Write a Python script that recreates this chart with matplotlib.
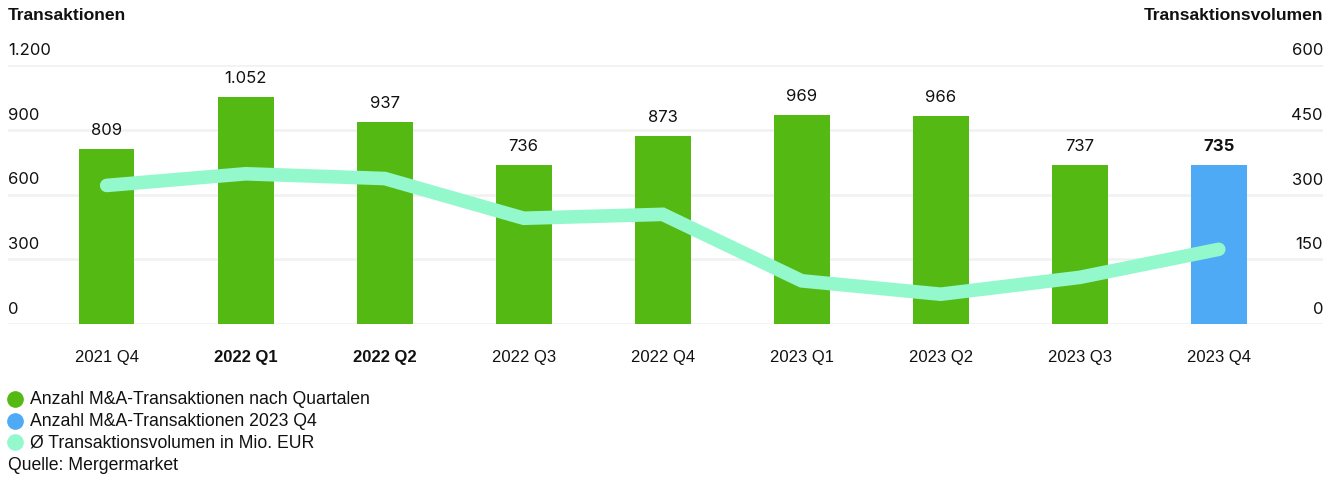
import matplotlib
matplotlib.use("Agg")
import matplotlib.pyplot as plt
from matplotlib.transforms import blended_transform_factory, offset_copy
from matplotlib.lines import Line2D

plt.rcParams['font.family'] = ['Liberation Sans', 'DejaVu Sans']
NUMFONT = ['Inter', 'Liberation Sans', 'DejaVu Sans']

categories = ["2021 Q4", "2022 Q1", "2022 Q2", "2022 Q3", "2022 Q4",
              "2023 Q1", "2023 Q2", "2023 Q3", "2023 Q4"]
deals = [809, 1052, 937, 736, 873, 969, 966, 737, 735]
volume = [321, 348, 337, 245, 254, 100, 69, 108, 173]
bold_cats = ["2022 Q1", "2022 Q2"]
left_ticks = [0, 300, 600, 900, 1200]
right_ticks = [0, 150, 300, 450, 600]

GREEN = "#55b914"
BLUE = "#4faaf5"
MINT = "#93f9cc"
GRID = "#f2f2f2"
TXT = "#111111"

fig = plt.figure(figsize=(13.39, 4.81), dpi=100)
ax = fig.add_axes([8/1339, 1-325/481, (1323-8)/1339, (325-66)/481])
ax2 = ax.twinx()

x = list(range(len(categories)))
colors = [GREEN]*(len(categories)-1) + [BLUE]
ax.bar(x, deals, width=0.4, color=colors, zorder=2)
ax.set_ylim(0, 1200)
ax.set_xlim(-0.71, len(categories)-1+0.75)

def de(n):
    return f"{n:,}".replace(",", ".")

for xi, v, c in zip(x, deals, categories):
    t = offset_copy(ax.transData, fig=fig, x=0, y=12, units='dots')
    ax.text(xi, v, de(v), transform=t, ha='center', va='bottom', fontsize=12,
            family=NUMFONT,
            fontweight='bold' if c == categories[-1] else 'normal', color=TXT)

for yv in left_ticks:
    ax.axhline(yv, color=GRID, lw=2, zorder=0)
    tr = offset_copy(blended_transform_factory(ax.transAxes, ax.transData),
                     fig=fig, x=0, y=8, units='dots')
    ax.text(0, yv, de(yv), transform=tr, ha='left', va='bottom', fontsize=12,
            family=NUMFONT, color=TXT)

ax2.set_ylim(0, 600)
ax2.plot(x, volume, color=MINT, lw=9.8, solid_capstyle='round',
         solid_joinstyle='miter', zorder=3)
for yv in right_ticks:
    tr = offset_copy(blended_transform_factory(ax2.transAxes, ax2.transData),
                     fig=fig, x=0, y=8, units='dots')
    ax2.text(1, yv, de(yv), transform=tr, ha='right', va='bottom', fontsize=12,
             family=NUMFONT, color=TXT)

ax.set_xticks(x)
ax.set_xticklabels(categories, fontsize=12, color=TXT)
for lbl in ax.get_xticklabels():
    if lbl.get_text() in bold_cats:
        lbl.set_fontweight('bold')
ax.tick_params(axis='x', length=0, pad=18)
ax.set_yticks([])
ax2.set_yticks([])
for a in (ax, ax2):
    for s in a.spines.values():
        s.set_visible(False)
ax.set_zorder(ax2.get_zorder() - 1)
ax.patch.set_visible(False)
ax2.patch.set_visible(False)

fig.text(8/1339, 1-15/481, "Transaktionen", ha='left', va='center',
         fontsize=12.6, fontweight='bold', color=TXT)
fig.text(1323/1339, 1-15/481, "Transaktionsvolumen", ha='right', va='center',
         fontsize=12.6, fontweight='bold', color=TXT)

legend_items = [(GREEN, "Anzahl M&A-Transaktionen nach Quartalen"),
                (BLUE, "Anzahl M&A-Transaktionen 2023 Q4"),
                (MINT, "Ø Transaktionsvolumen in Mio. EUR")]
for i, (c, t) in enumerate(legend_items):
    yy = 1 - (400 + i*21.5)/481
    fig.add_artist(Line2D([15/1339], [yy], marker='o', markersize=11,
                          color=c, transform=fig.transFigure, linestyle='none'))
    fig.text(30/1339, yy, t, ha='left', va='center', fontsize=12.7, color=TXT)
fig.text(8/1339, 1-466/481, "Quelle: Mergermarket", ha='left', va='center',
         fontsize=12.7, color=TXT)

fig.savefig("out.png", dpi=100)
